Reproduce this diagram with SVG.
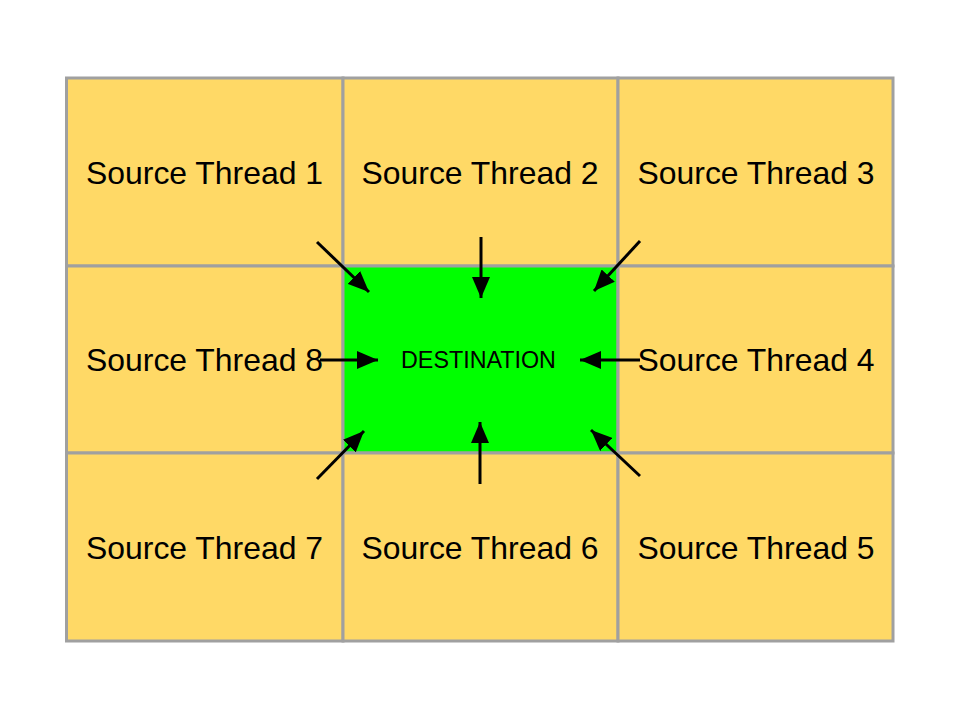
<svg xmlns="http://www.w3.org/2000/svg" width="960" height="720" viewBox="0 0 960 720">
<style>
.cell{fill:#ffd966;stroke:#a0a0a0;stroke-width:3}
.dest{fill:#00ff00;stroke:#a0a0a0;stroke-width:3}
.lbl{font-family:"Liberation Sans",Arial,sans-serif;font-size:31.9px;fill:#000;text-anchor:middle}
.dl{font-family:"Liberation Sans",Arial,sans-serif;font-size:23.3px;fill:#000;text-anchor:middle}
.ar{stroke:#000;stroke-width:3;fill:none;marker-end:url(#ah)}
</style>
<defs>
<marker id="ah" markerUnits="userSpaceOnUse" markerWidth="24" markerHeight="18" refX="21" refY="9" orient="auto">
<path d="M0,0 L21,9 L0,18 Z" fill="#000"/>
</marker>
</defs>
<rect width="960" height="720" fill="#fff"/>
<g id="n1"><rect class="cell" x="66.5" y="78" width="276.5" height="188"/><text class="lbl" x="204.5" y="184">Source Thread 1</text></g>
<g id="n2"><rect class="cell" x="343" y="78" width="275" height="188"/><text class="lbl" x="480" y="184">Source Thread 2</text></g>
<g id="n3"><rect class="cell" x="618" y="78" width="275" height="188"/><text class="lbl" x="756" y="184">Source Thread 3</text></g>
<g id="n8"><rect class="cell" x="66.5" y="266" width="276.5" height="187"/><text class="lbl" x="204.5" y="371">Source Thread 8</text></g>
<g id="dest"><rect class="dest" x="343" y="266" width="275" height="187"/><text class="dl" x="478.5" y="368">DESTINATION</text></g>
<g id="n4"><rect class="cell" x="618" y="266" width="275" height="187"/><text class="lbl" x="756" y="371">Source Thread 4</text></g>
<g id="n7"><rect class="cell" x="66.5" y="453" width="276.5" height="188"/><text class="lbl" x="204.5" y="559">Source Thread 7</text></g>
<g id="n6"><rect class="cell" x="343" y="453" width="275" height="188"/><text class="lbl" x="480" y="559">Source Thread 6</text></g>
<g id="n5"><rect class="cell" x="618" y="453" width="275" height="188"/><text class="lbl" x="756" y="559">Source Thread 5</text></g>
<g id="connectors">
<line class="ar" x1="317" y1="242" x2="369" y2="292"/>
<line class="ar" x1="481" y1="237" x2="481" y2="298"/>
<line class="ar" x1="640" y1="241" x2="594" y2="291"/>
<line class="ar" x1="640" y1="360" x2="580" y2="360"/>
<line class="ar" x1="320" y1="360" x2="378" y2="360"/>
<line class="ar" x1="317" y1="479" x2="364" y2="431"/>
<line class="ar" x1="480" y1="484" x2="480" y2="422"/>
<line class="ar" x1="640" y1="476" x2="591" y2="430"/>
</g>
</svg>
